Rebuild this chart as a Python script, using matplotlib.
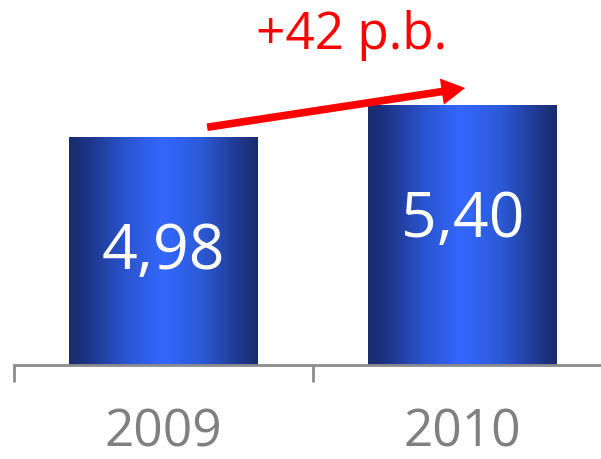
import numpy as np
import matplotlib
matplotlib.use("Agg")
import matplotlib.pyplot as plt
from matplotlib.colors import LinearSegmentedColormap
from matplotlib.transforms import blended_transform_factory

# dane
lata = ["2009", "2010"]
wartosci = [4.98, 5.40]
etykiety = ["4,98", "5,40"]

plt.rcParams['font.family'] = ['Open Sans', 'DejaVu Sans']

fig = plt.figure(figsize=(6.01, 4.59), dpi=100)
ax = fig.add_axes([13.7 / 601, 94 / 459, 598 / 601, 365 / 459])
ax.set_xlim(-0.5, 1.5)
ax.set_ylim(2.0, 6.79)

gradient = LinearSegmentedColormap.from_list("slupek", [
    (0.0, "#1a2c6b"), (0.08, "#1c3180"), (0.3, "#2a55d0"),
    (0.5, "#3467fd"), (0.7, "#2c5ad8"), (0.92, "#1e3588"), (1.0, "#1a2c6b")])
grad = np.linspace(0, 1, 256).reshape(1, -1)

szer = 0.63
bary = ax.bar(range(len(wartosci)), wartosci, width=szer, bottom=0, color="none", zorder=2)
for b in bary:
    x0 = b.get_x()
    ax.imshow(grad, cmap=gradient, aspect="auto", zorder=2,
              extent=[x0, x0 + b.get_width(), ax.get_ylim()[0], b.get_height()])

for i, (v, t) in enumerate(zip(wartosci, etykiety)):
    ax.text(i, v - 1.72, t, color="white", fontsize=45, ha="center", va="baseline", zorder=3)

# strzalka i roznica
roznica = round((wartosci[1] - wartosci[0]) * 100)
ax.annotate("", xy=(1.01, wartosci[1] + 0.235), xytext=(0.147, wartosci[0] + 0.14),
            arrowprops=dict(facecolor="#ff0000", edgecolor="none", width=5.5,
                            headwidth=19, headlength=17, shrink=0), zorder=4)
ax.text(0.63, wartosci[1] + 0.75, "+{} p.b.".format(roznica), color="#ff0000",
        fontsize=37, ha="center", va="baseline")

# os
for s in ["top", "left", "right"]:
    ax.spines[s].set_visible(False)
ax.spines["bottom"].set_color("#8c8c8c")
ax.spines["bottom"].set_linewidth(2)
ax.set_yticks([])
ax.set_xticks([-0.5, 0.5, 1.5])
ax.set_xticklabels([])
ax.tick_params(axis="x", length=12.5, width=2, color="#8c8c8c", direction="out")

# podpisy lat przy dolnej krawedzi
tr = blended_transform_factory(ax.transData, fig.transFigure)
for i, rok in enumerate(lata):
    ax.text(i, 0.002, rok, transform=tr, color="#808080", fontsize=37,
            ha="center", va="bottom")

fig.savefig("out.png", dpi=100)
